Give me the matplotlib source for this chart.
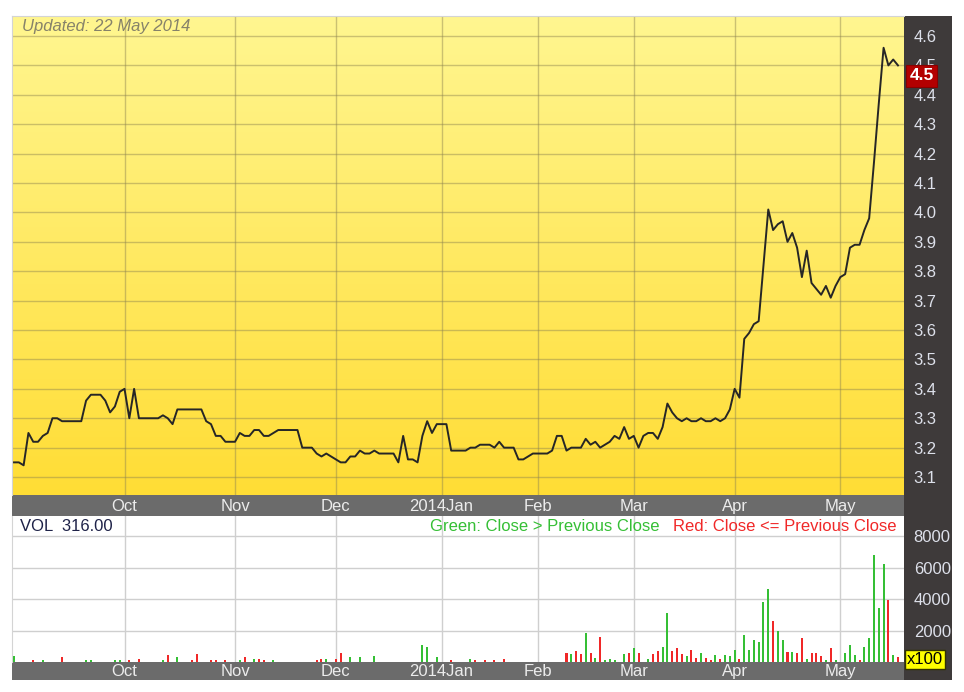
import numpy as np
import pandas as pd
import matplotlib
matplotlib.use('Agg')
import matplotlib.pyplot as plt
import matplotlib.transforms as mtransforms
from matplotlib.colors import LinearSegmentedColormap

plt.rcParams['font.family'] = ['Liberation Sans', 'DejaVu Sans']

# trading days (new year + lunar new year closed)
holidays = ['2014-01-01', '2014-01-30', '2014-01-31']
dates = pd.bdate_range('2013-08-29', '2014-05-19', freq='C', holidays=holidays)

# closing prices, one row per month
close = [
    3.15, 3.15, 3.14, 3.25, 3.22, 3.22, 3.24, 3.25, 3.30, 3.30, 3.29, 3.29, 3.29, 3.29, 3.29, 3.36, 3.38, 3.38, 3.38, 3.36, 3.32, 3.34, 3.39,
    3.40, 3.30, 3.40, 3.30, 3.30, 3.30, 3.30, 3.30, 3.31, 3.30, 3.28, 3.33, 3.33, 3.33, 3.33, 3.33, 3.33, 3.29, 3.28, 3.24, 3.24, 3.22, 3.22,
    3.22, 3.25, 3.24, 3.24, 3.26, 3.26, 3.24, 3.24, 3.25, 3.26, 3.26, 3.26, 3.26, 3.26, 3.20, 3.20, 3.20, 3.18, 3.17, 3.18, 3.17,
    3.16, 3.15, 3.15, 3.17, 3.17, 3.19, 3.18, 3.18, 3.19, 3.18, 3.18, 3.18, 3.18, 3.15, 3.24, 3.16, 3.16, 3.15, 3.24, 3.29, 3.25, 3.28,
    3.28, 3.28, 3.19, 3.19, 3.19, 3.19, 3.20, 3.20, 3.21, 3.21, 3.21, 3.20, 3.22, 3.20, 3.20, 3.20, 3.16, 3.16, 3.17, 3.18,
    3.18, 3.18, 3.18, 3.19, 3.24, 3.24, 3.19, 3.20, 3.20, 3.20, 3.23, 3.21, 3.22, 3.20, 3.21, 3.22, 3.24, 3.23, 3.27, 3.23,
    3.24, 3.20, 3.24, 3.25, 3.25, 3.23, 3.27, 3.35, 3.32, 3.30, 3.29, 3.30, 3.29, 3.29, 3.30, 3.29, 3.29, 3.30, 3.29, 3.30, 3.33,
    3.40, 3.37, 3.57, 3.59, 3.62, 3.63, 3.82, 4.01, 3.94, 3.96, 3.97, 3.90, 3.93, 3.88, 3.78, 3.87, 3.76, 3.74, 3.72, 3.75, 3.71, 3.75,
    3.78, 3.79, 3.88, 3.89, 3.89, 3.94, 3.98, 4.17, 4.37, 4.56, 4.50, 4.52, 4.50,
]

# volume in lots of 100
volume = [
    380, 0, 0, 0, 100, 0, 100, 0, 0, 0, 320, 0, 0, 0, 0, 100, 100, 0, 0, 0, 0, 100, 100,
    0, 100, 0, 210, 0, 0, 0, 0, 100, 430, 0, 320, 0, 0, 100, 510, 0, 0, 100, 100, 0, 100, 0,
    0, 100, 300, 0, 210, 210, 100, 0, 100, 0, 0, 0, 0, 0, 0, 0, 0, 100, 210, 210, 0,
    210, 575, 0, 320, 0, 320, 0, 0, 380, 0, 0, 0, 0, 0, 0, 0, 0, 0, 1090, 980, 0, 320,
    0, 0, 100, 0, 0, 0, 215, 110, 0, 110, 0, 110, 0, 215, 0, 0, 0, 0, 0, 0,
    0, 0, 0, 0, 0, 0, 600, 495, 690, 495, 1850, 600, 280, 1570, 110, 190, 110, 0, 495, 600,
    880, 600, 0, 190, 495, 690, 970, 3120, 690, 880, 495, 390, 775, 280, 580, 280, 110, 470, 170, 470, 390,
    750, 170, 1720, 750, 1420, 1250, 3830, 4640, 2600, 2000, 1420, 645, 645, 560, 1530, 170, 560, 560, 390, 110, 860, 110,
    0, 560, 1075, 470, 110, 970, 1530, 6840, 3460, 6260, 3960, 470, 316,
]

price_ticks = [3.1, 3.2, 3.3, 3.4, 3.5, 3.6, 3.7, 3.8, 3.9, 4.0, 4.1, 4.2, 4.3, 4.4, 4.5, 4.6]
vol_ticks = [2000, 4000, 6000, 8000]
updated = 'Updated: 22 May 2014'

idx = np.arange(len(dates))
# month starts; the partial first month (Sep) is not labelled
month_pos = [i for i in range(1, len(dates)) if dates[i].month != dates[i - 1].month][1:]
month_lab = [('2014Jan' if dates[i].month == 1 else dates[i].strftime('%b')) for i in month_pos]

GREEN = '#35bf35'
RED = '#f02828'
up = [True] + [close[i] > close[i - 1] for i in range(1, len(close))]
bar_colors = [GREEN if u else RED for u in up]

W, H = 964, 692
fig = plt.figure(figsize=(W / 100, H / 100), dpi=100)


def box(x0, y0, x1, y1):
    return [x0 / W, 1 - y1 / H, (x1 - x0) / W, (y1 - y0) / H]


xlim = (-0.42, len(dates) - 1 + 1.25)
TICKCOL = '#dde0ea'

side = fig.add_axes(box(904, 16, 952, 680))
side.set_facecolor('#3e3a3a')
side.set_xticks([])
side.set_yticks([])
for s in side.spines.values():
    s.set_visible(False)

bands = [fig.add_axes(box(12, 495, 904, 516)), fig.add_axes(box(12, 662, 904, 680))]
for b in bands:
    b.set_facecolor('#6b6b6b')
    b.set_xlim(xlim)
    b.set_xticks([])
    b.set_yticks([])
    for s in b.spines.values():
        s.set_visible(False)
    tr = mtransforms.blended_transform_factory(b.transData, b.transAxes)
    for p, lab in zip(month_pos, month_lab):
        b.text(p, 0.45, lab, transform=tr, ha='center', va='center',
               color='#ececec', fontsize=12)

# price panel
ax = fig.add_axes(box(12, 16, 904, 495))
ylim = (3.039, 4.668)
cmap = LinearSegmentedColormap.from_list('bg', ['#fff690', '#ffdd35'])
ax.imshow(np.linspace(0, 1, 256).reshape(-1, 1), cmap=cmap, aspect='auto',
          extent=[xlim[0], xlim[1], ylim[0], ylim[1]], zorder=0)
ax.set_xlim(xlim)
ax.set_ylim(ylim)
ax.plot(idx, close, color='#262626', lw=1.4, zorder=3)
ax.set_xticks(month_pos)
ax.set_xticklabels([])
ax.yaxis.tick_right()
ax.set_yticks(price_ticks)
ax.set_yticklabels(['%.1f' % t for t in price_ticks])
ax.tick_params(axis='both', length=0)
ax.tick_params(axis='y', pad=7, labelsize=12, labelcolor=TICKCOL)
ax.grid(True, color='#8c8250', alpha=0.45, lw=1)
for k in ['right', 'bottom']:
    ax.spines[k].set_visible(False)
for k in ['left', 'top']:
    ax.spines[k].set_color('#d4d4d4')
ax.text(0.011, 0.993, updated, transform=ax.transAxes, ha='left', va='top',
        fontsize=12, style='italic', color='#86826a')
# last price flag, hanging just below its level like the original
trp = mtransforms.blended_transform_factory(ax.transAxes, ax.transData) + \
    mtransforms.ScaledTranslation(0, -0.105, fig.dpi_scale_trans)
ax.text(1.0196, close[-1], '%.1f' % close[-1], transform=trp, ha='center', va='center',
        fontsize=12.5, fontweight='bold', color='white', zorder=10, clip_on=False,
        bbox=dict(boxstyle='square,pad=0.2', fc='#b30000', ec='#8a0000', lw=0.8))

# volume panel
vax = fig.add_axes(box(12, 516, 904, 662))
vax.set_facecolor('white')
vax.bar(idx, volume, width=0.42, color=bar_colors, zorder=3)
vax.set_xlim(xlim)
vax.set_ylim(0, 9300)
vax.set_xticks(month_pos)
vax.set_xticklabels([])
vax.yaxis.tick_right()
vax.set_yticks(vol_ticks)
vax.set_yticklabels([str(t) for t in vol_ticks])
vax.tick_params(axis='both', length=0)
vax.tick_params(axis='y', pad=7, labelsize=12, labelcolor=TICKCOL)
vax.grid(True, color='#cfcfcf', lw=1)
vax.set_axisbelow(True)
for k in ['right', 'bottom', 'top']:
    vax.spines[k].set_visible(False)
vax.spines['left'].set_color('#d4d4d4')
vax.text(0.009, 0.93, 'VOL  %.2f' % volume[-1], transform=vax.transAxes,
         ha='left', va='center', fontsize=12, color='#1e2248')
red_txt = vax.text(0.992, 0.93, 'Red: Close <= Previous Close', transform=vax.transAxes,
                   ha='right', va='center', fontsize=12, color=RED)
vax.annotate('Green: Close > Previous Close', xy=(0, 0.5), xycoords=red_txt,
             xytext=(-10, 0), textcoords='offset points', ha='right', va='center',
             fontsize=12, color=GREEN)
vax.text(1.003, 0.02, 'x100', transform=vax.transAxes, ha='left', va='center',
         fontsize=12, color='black', zorder=10, clip_on=False,
         bbox=dict(boxstyle='square,pad=0.12', fc='#ffff00', ec='#333300', lw=1))

fig.savefig('out.png', dpi=100)
